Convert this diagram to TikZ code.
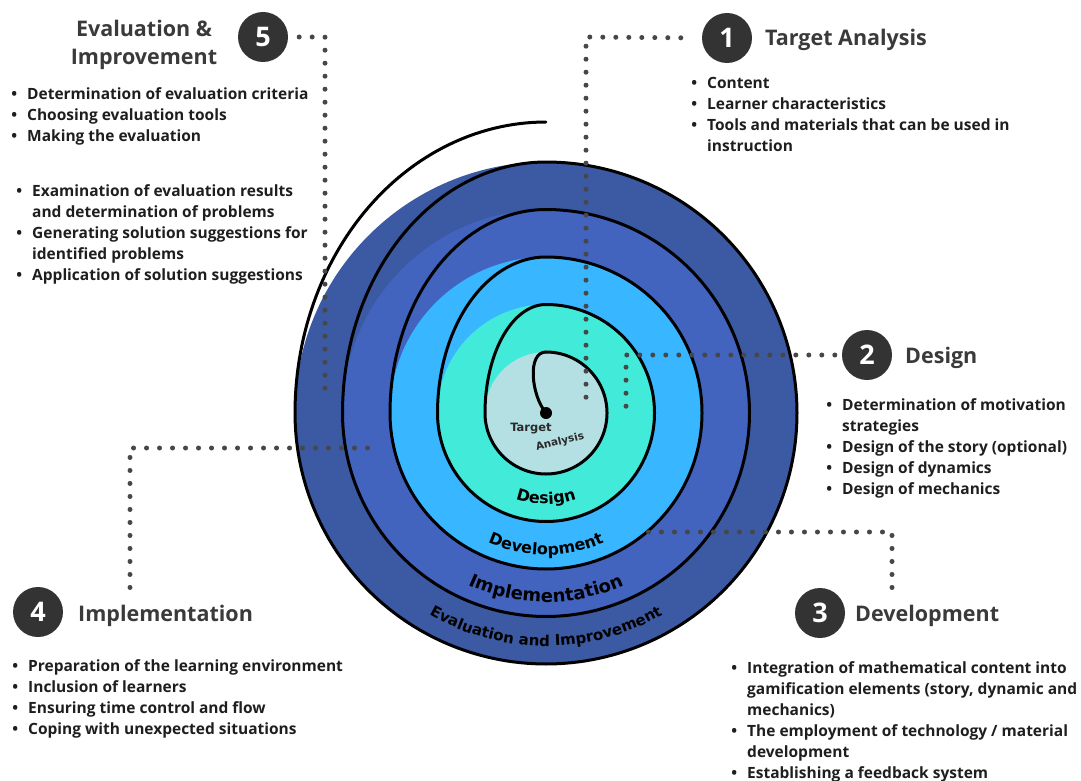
\documentclass[tikz,border=0pt]{standalone}
\usepackage{fontspec}
\setmainfont{Open Sans}
\newfontfamily\ringfont{DejaVu Sans}
\usetikzlibrary{decorations.text}

\definecolor{ringE}{HTML}{3B5AA3}
\definecolor{ringI}{HTML}{4264BF}
\definecolor{ringD}{HTML}{38B6FF}
\definecolor{ringG}{HTML}{42EAD9}
\definecolor{ringT}{HTML}{B4E0E3}
\definecolor{badgefill}{HTML}{333333}
\definecolor{dotgray}{HTML}{474747}
\definecolor{titlegray}{HTML}{3A3A3A}
\definecolor{bodyink}{HTML}{1E1E1E}
\definecolor{ringink}{HTML}{2A2A2A}

% bullet item and continuation indent
\newcommand\itm{\makebox[0pt][c]{•}\hspace{13pt}}
\newcommand\cnt{\hspace*{13pt}}
\newcommand\firstline{\rule{0pt}{13pt}}

\begin{document}
\begin{tikzpicture}[x=1pt, y=-1pt,
  % each turn of the spiral is a circle of radius spk for three quarters,
  % then an ellipse quarter (upper left) that reaches the next radius at the top
  declare function={
    spn(\t)=floor(\t/360);
    spk(\t)=61+47.5*spn(\t);
    spy(\t)=spk(\t)+(47.5-7.5*(spn(\t)>3.5))*((\t-360*floor(\t/360))>270);
  },
  titletext/.style={font=\bfseries\fontsize{21.5}{28}\selectfont, text=titlegray, inner sep=0pt, anchor=base west},
  badge/.style={circle, fill=badgefill, minimum size=50pt, inner sep=0pt, text=white,
    font=\bfseries\fontsize{27}{27}\selectfont},
  blist/.style={font=\bfseries\fontsize{15.5}{21}\selectfont, text=bodyink, align=left,
    inner sep=0pt, anchor=north west},
  dotline/.style={draw=dotgray, line width=5pt, line cap=round, dash pattern=on 0pt off 13pt},
  spiralline/.style={draw=black, line width=3pt, line cap=round, line join=round},
  ringlabel/.style={decorate, decoration={text along path, text align=center}},
]
\useasboundingbox (0,0) rectangle (1081,781);

% ---- coloured discs of the spiral ----
\fill[ringE] (546,413) circle[radius=251];
\fill[ringI] (546,413) circle[radius=203.5];
\fill[ringD] (546,413) circle[radius=156];
\fill[ringG] (546,413) circle[radius=108.5];
\fill[ringT] (546,413) circle[radius=61];

% ---- spiral line ----
\node[circle, fill=black, minimum size=12pt, inner sep=0pt] (hub) at (546,413) {};
\draw[spiralline] (hub.center) .. controls (531,395) and (527,352) .. (546,352);
\draw[spiralline] plot[domain=0:1799.999, samples=1201, variable=\t]
  ({546+spk(\t)*sin(\t)}, {413-spy(\t)*cos(\t)});

% ---- phase names inside the rings ----
\node[font=\ringfont\bfseries\fontsize{11.5}{11.5}\selectfont, text=ringink] (lt1) at (531,429) {Target};
\node[font=\ringfont\bfseries\fontsize{10.5}{10.5}\selectfont, text=ringink, rotate=14] (lt2) at (560,442) {Analysis};
\path[ringlabel, decoration={text={|\ringfont\bfseries\fontsize{16}{16}\selectfont|Design}}]
  (546,413) ++(150:91) arc[start angle=150, end angle=30, radius=91];
\path[ringlabel, decoration={text={|\ringfont\bfseries\fontsize{16}{16}\selectfont|Development}}]
  (546,413) ++(150:142) arc[start angle=150, end angle=30, radius=142];
\path[ringlabel, decoration={text={|\ringfont\bfseries\fontsize{18}{18}\selectfont|Implementation}}]
  (546,413) ++(150:189) arc[start angle=150, end angle=30, radius=189];
\path[ringlabel, decoration={text={|\ringfont\bfseries\fontsize{15}{15}\selectfont|Evaluation and Improvement}}]
  (546,413) ++(150:233) arc[start angle=150, end angle=30, radius=233];

% ---- numbered badges and titles ----
\node[badge] (n1) at (727,38) {1};
\node[titletext] (t1) at (765,46) {Target Analysis};
\node[badge] (n2) at (867,355) {2};
\node[titletext] (t2) at (905,363) {Design};
\node[badge] (n3) at (820,613) {3};
\node[titletext] (t3) at (855,621) {Development};
\node[badge] (n4) at (38,612) {4};
\node[titletext] (t4) at (78,621) {Implementation};
\node[badge] (n5) at (263,37) {5};
\node[font=\bfseries\fontsize{21.5}{28}\selectfont, text=titlegray, inner sep=0pt, align=center]
  (t5) at (144,44.5) {Evaluation \&\\Improvement};

% ---- bullet lists ----
\node[blist] (l1) at (694,75) {\firstline\itm Content\\
  \itm Learner characteristics\\
  \itm Tools and materials that can be used in\\
  \cnt instruction};
\node[blist] (l2) at (829,397) {\firstline\itm Determination of motivation\\
  \cnt strategies\\
  \itm Design of the story (optional)\\
  \itm Design of dynamics\\
  \itm Design of mechanics};
\node[blist] (l3) at (734,660) {\firstline\itm Integration of mathematical content into\\
  \cnt gamification elements (story, dynamic and\\
  \cnt mechanics)\\
  \itm The employment of technology / material\\
  \cnt development\\
  \itm Establishing a feedback system};
\node[blist] (l4) at (15,658) {\firstline\itm Preparation of the learning environment\\
  \itm Inclusion of learners\\
  \itm Ensuring time control and flow\\
  \itm Coping with unexpected situations};
\node[blist] (l5a) at (14,86) {\firstline\itm Determination of evaluation criteria\\
  \itm Choosing evaluation tools\\
  \itm Making the evaluation};
\node[blist] (l5b) at (19,183) {\firstline\itm Examination of evaluation results\\
  \cnt and determination of problems\\
  \itm Generating solution suggestions for\\
  \cnt identified problems\\
  \itm Application of solution suggestions};

% ---- dotted leaders into the spiral ----
\coordinate (k1a) at (586,37);
\coordinate (k1b) at (586,408);
\draw[dotline, shorten <=21pt] (n1.west) -- (k1a) -- (k1b);
\coordinate (k2a) at (626,355);
\coordinate (k2b) at (626,408);
\draw[dotline, shorten <=7pt] (n2.west) -- (k2a) -- (k2b);
\coordinate (k3a) at (892,532);
\coordinate (k3b) at (636,532);
\draw[dotline, shorten <=17pt] (t3.north -| k3a) -- (k3a) -- (k3b);
\coordinate (k4a) at (130,448);
\coordinate (k4b) at (372,448);
\draw[dotline, shorten <=17pt] (t4.north -| k4a) -- (k4a) -- (k4b);
\coordinate (k5a) at (325,37);
\coordinate (k5b) at (325,397);
\draw[dotline, shorten <=11pt] (n5.east) -- (k5a) -- (k5b);
\end{tikzpicture}
\end{document}
